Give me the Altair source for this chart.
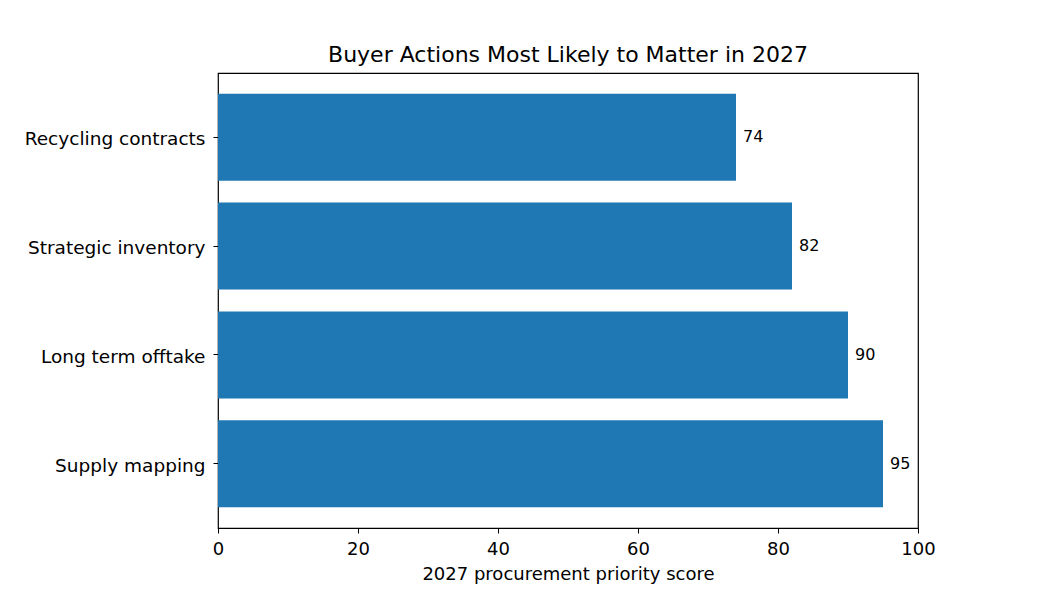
import altair as alt
import pandas as pd

actions = ["Recycling contracts", "Strategic inventory", "Long term offtake", "Supply mapping"]
scores = [74, 82, 90, 95]

data = pd.DataFrame({"Action": actions, "Score": scores})
font = "DejaVu Sans"

base = alt.Chart(data).encode(
    y=alt.Y(
        "Action:N",
        sort=actions,
        title=None,
        scale=alt.Scale(paddingInner=0.2, paddingOuter=0.19),
        axis=alt.Axis(
            labelFont=font, labelFontSize=18.5, labelColor="black", labelPadding=8, labelOffset=2,
            labelLimit=300, tickColor="black", tickSize=5, domain=False, ticks=True,
        ),
    ),
)

bars = base.mark_bar(color="#1f77b4").encode(
    x=alt.X(
        "Score:Q",
        title="2027 procurement priority score",
        scale=alt.Scale(domain=[0, 100], nice=False),
        axis=alt.Axis(
            values=[0, 20, 40, 60, 80, 100], grid=False, domain=False, labelFlush=False,
            labelFont=font, labelFontSize=18, labelColor="black", labelPadding=7,
            tickColor="black", tickSize=5,
            titleFont=font, titleFontSize=18, titleFontWeight="normal", titleColor="black",
            titlePadding=7,
        ),
    ),
)

labels = base.mark_text(align="left", baseline="middle", dx=7, font=font, fontSize=16, color="black").encode(
    x="Score:Q",
    text="Score:Q",
)

chart = (
    (bars + labels)
    .properties(
        width=700,
        height=455,
        title=alt.TitleParams(
            "Buyer Actions Most Likely to Matter in 2027",
            font=font, fontSize=22, fontWeight="normal", color="black", offset=6,
        ),
        autosize=alt.AutoSizeParams(type="none"),
        padding={"left": 210, "top": 65, "right": 131, "bottom": 70},
    )
    .configure(background="white")
    .configure_view(stroke="black", strokeWidth=1.2)
)

chart.save("out.html", embed_options={"renderer": "svg", "actions": False})
